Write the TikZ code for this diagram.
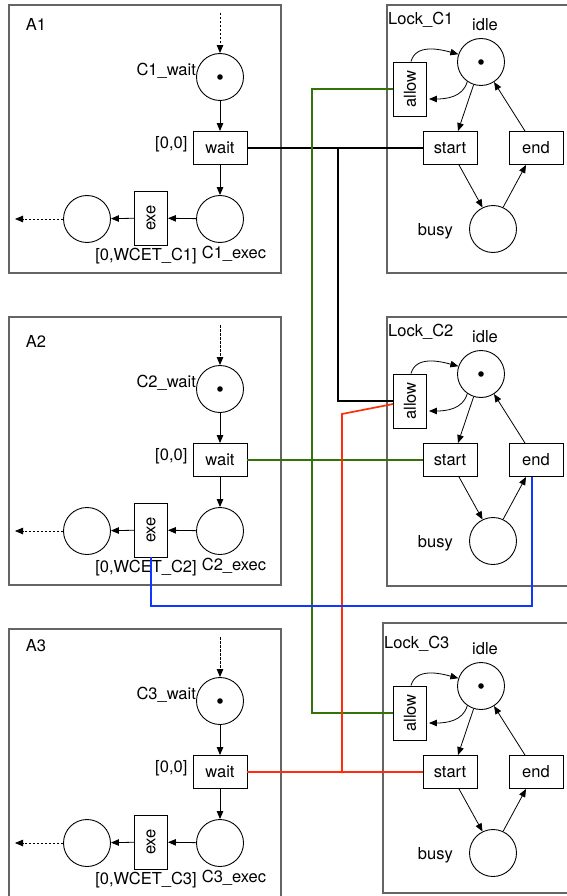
\documentclass[tikz,border=0pt]{standalone}
\usepackage{fontspec}
\usepackage{graphicx}
\setmainfont{TeX Gyre Heros}
\usetikzlibrary{arrows.meta,calc}
\definecolor{cgreen}{RGB}{50,115,10}
\definecolor{cred}{RGB}{255,45,10}
\definecolor{cblue}{RGB}{15,55,255}
\definecolor{cframe}{RGB}{100,100,100}
\begin{document}
\begin{tikzpicture}[x=1pt,y=-1pt,
  every node/.style={font=\fontsize{16.5}{19}\selectfont, inner sep=0pt},
  place/.style={draw,circle,minimum size=47pt,line width=0.9pt},
  trh/.style={draw,rectangle,minimum width=54pt,minimum height=33pt,line width=0.9pt},
  trv/.style={draw,rectangle,minimum width=33pt,minimum height=54pt,line width=0.9pt},
  arr/.style={-{Triangle[length=8pt,width=6.5pt]},line width=0.8pt},
  darr/.style={arr,dash pattern=on 2.5pt off 1.5pt},
  blockbox/.style={draw=cframe,line width=1.2pt},
  conn/.style={line width=1.7pt}
]
\useasboundingbox (0,0) rectangle (567,896);
\clip (0,0) rectangle (567,896);

% A blocks
\foreach \i/\d/\ly/\bb in {1/0/24/273, 2/312/341/585, 3/624/646/905} {
  \draw[blockbox] (9,5+\d) rectangle (281,\bb);
  \node (lA\i) at (36,\ly) {A\i};
  \node[place] (cw\i) at (220,77+\d) {};
  \fill (cw\i) circle (2.8pt);
  \node[trh] (wt\i) at (220,148+\d) {wait};
  \node[place] (ce\i) at (220,219+\d) {};
  \node[trv] (ex\i) at (151,218+\d) {\rotatebox{90}{exe}};
  \node[place] (po\i) at (87,219+\d) {};
  \coordinate (in\i) at (220,13+\d);
  \coordinate (ou\i) at (15,219+\d);
  \draw[darr] (in\i) -- (cw\i);
  \draw[arr] (cw\i) -- (wt\i);
  \draw[arr] (wt\i) -- (ce\i);
  \draw[arr] (ce\i) -- (ex\i);
  \draw[arr] (ex\i) -- (po\i);
  \draw[darr] (po\i) -- (ou\i);
  \node[anchor=east] (lcw\i) at ([yshift=6pt]cw\i.west) {C\i\_wait};
  \node[anchor=east] (lzz\i) at ([shift={(-5pt,4pt)}]wt\i.west) {[0,0]};
  \node (lwc\i) at (146,256+\d) {[0,WCET\_C\i]};
  \node (lce\i) at (234,254+\d) {C\i\_exec};
}

% Lock blocks
\foreach \i/\d/\bl/\bt/\bb in {1/0/387/5/273, 2/312/387/317/586, 3/624/383/623/893} {
  \draw[blockbox] (\bl,\bt) rectangle (580,\bb);
  \node[anchor=west] (lk\i) at (\bl+1,20+\d) {Lock\_C\i};
  \node[place] (id\i) at (481,62+\d) {};
  \fill (id\i) circle (2.8pt);
  \node (lid\i) at (485,25+\d) {idle};
  \node[trv] (al\i) at (410,89+\d) {\rotatebox{90}{allow}};
  \node[trh] (st\i) at (450,148+\d) {start};
  \node[trh] (en\i) at (536,148+\d) {end};
  \node[place] (bu\i) at (493,229+\d) {};
  \node[anchor=east] (lbu\i) at (453,231+\d) {busy};
  \draw[arr] ([xshift=1pt]al\i.north) to[out=75,in=165] (id\i.161);
  \draw[arr] (id\i.-125) to[out=-105,in=0] ([shift={(2pt,-10pt)}]al\i.east);
  \draw[arr] (id\i.-108) -- ([xshift=8pt]st\i.north);
  \draw[arr] ([xshift=9pt]st\i.south) -- (bu\i.116);
  \draw[arr] (bu\i.65) -- ([xshift=-10pt]en\i.south);
  \draw[arr] ([xshift=-11pt]en\i.north) -- (id\i.-57);
}

% connectors
\coordinate (j1) at (338,148);
\draw[conn] (wt1.east) -- (st1.west);
\draw[conn] (j1) |- (al2.west);

\coordinate (g1) at (312,400);
\draw[conn,cgreen] (al1.west) -| (g1) |- (al3.west);
\draw[conn,cgreen] (wt2.east) -- (st2.west);

\coordinate (r1) at (342,773);
\coordinate (r2) at (342,414);
\draw[conn,cred] (wt3.east) -- (st3.west);
\draw[conn,cred] (r1) -- (r2) -- ([yshift=-3pt]al2.west);

\coordinate (b1) at (151,606);
\draw[conn,cblue] (ex2.south) -- (b1) -| ([xshift=-4pt]en2.south);
\end{tikzpicture}
\end{document}
